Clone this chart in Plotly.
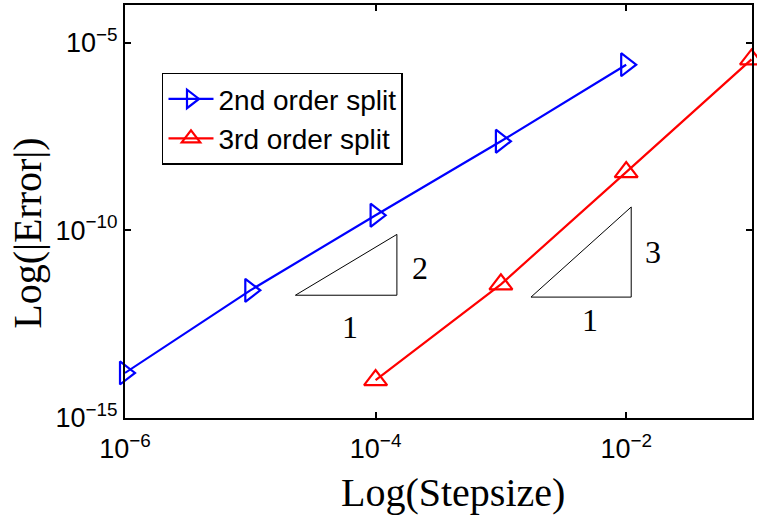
import plotly.graph_objects as go

# Data
stepsize_2nd = [1e-6, 1e-5, 1e-4, 1e-3, 1e-2]
log_err_2nd = [-13.80, -11.60, -9.60, -7.63, -5.59]
stepsize_3rd = [1e-4, 1e-3, 1e-2, 1e-1]
log_err_3rd = [-13.99, -11.44, -8.45, -5.45]

err_2nd = [10 ** v for v in log_err_2nd]
err_3rd = [10 ** v for v in log_err_3rd]

# slope triangles (log10 coordinates)
tri2_logx = [-4.64, -3.83, -3.83, -4.64]
tri2_logy = [-11.73, -11.73, -10.11, -11.73]
tri3_logx = [-2.76, -1.96, -1.96, -2.76]
tri3_logy = [-11.78, -11.78, -9.38, -11.78]

x_tickvals = [1e-6, 1e-4, 1e-2]
x_ticktext = ["10<sup>\u22126</sup>", "10<sup>\u22124</sup>", "10<sup>\u22122</sup>"]
y_tickvals = [1e-15, 1e-10, 1e-5]
y_ticktext = ["10<sup>\u221215</sup>", "10<sup>\u221210</sup>", "10<sup>\u22125</sup>"]

fig = go.Figure()

fig.add_trace(go.Scatter(
    x=stepsize_2nd, y=err_2nd, mode="lines+markers", name="2nd order split",
    line=dict(color="#0000ff", width=2.2),
    marker=dict(symbol="triangle-right-open", size=20, color="#0000ff",
                line=dict(width=2.2, color="#0000ff")),
    cliponaxis=False,
))
fig.add_trace(go.Scatter(
    x=stepsize_3rd, y=err_3rd, mode="lines+markers", name="3rd order split",
    line=dict(color="#ff0000", width=2.2),
    marker=dict(symbol="triangle-up-open", size=20, color="#ff0000",
                line=dict(width=2.2, color="#ff0000")),
    cliponaxis=False,
))

for tx, ty in [(tri2_logx, tri2_logy), (tri3_logx, tri3_logy)]:
    fig.add_trace(go.Scatter(
        x=[10 ** v for v in tx], y=[10 ** v for v in ty], mode="lines",
        line=dict(color="black", width=1), showlegend=False, hoverinfo="skip",
    ))

labels = [(-4.205, -12.58, "1"), (-3.644, -11.01, "2"),
          (-2.285, -12.39, "1"), (-1.787, -10.585, "3")]
for lx, ly, t in labels:
    fig.add_annotation(x=lx, y=ly, xref="x", yref="y", text=t, showarrow=False,
                       font=dict(family="Liberation Serif", size=32, color="black"))

# axis titles
fig.add_annotation(x=0.523, y=-0.181, xref="paper", yref="paper",
                   xanchor="center", yanchor="middle", showarrow=False,
                   text="Log(Stepsize)",
                   font=dict(family="Liberation Serif", size=40, color="black"))
fig.add_annotation(x=-0.155, y=0.448, xref="paper", yref="paper",
                   xanchor="center", yanchor="middle", showarrow=False,
                   text="Log(|Error|)", textangle=-90,
                   font=dict(family="Liberation Serif", size=40, color="black"))

fig.update_layout(
    width=757, height=517,
    margin=dict(l=125, r=5, t=3, b=99),
    paper_bgcolor="white", plot_bgcolor="white",
    font=dict(family="Liberation Sans", color="black"),
    showlegend=True,
    legend=dict(
        x=0.059, y=0.836, xanchor="left", yanchor="top",
        bordercolor="black", borderwidth=1.5, bgcolor="white",
        font=dict(family="Liberation Sans", size=28, color="black"),
        itemwidth=45, tracegroupgap=0,
    ),
)

fig.update_xaxes(
    type="log", range=[-6, -0.996],
    tickvals=x_tickvals, ticktext=x_ticktext,
    ticks="inside", ticklen=6, tickwidth=2, tickcolor="black",
    showline=True, linewidth=2, linecolor="black", mirror="ticks",
    showgrid=False, zeroline=False, ticklabelstandoff=6,
    tickfont=dict(family="Liberation Sans", size=27, color="black"),
)
fig.update_yaxes(
    type="log", range=[-15, -4],
    tickvals=y_tickvals, ticktext=y_ticktext,
    ticks="inside", ticklen=6, tickwidth=2, tickcolor="black",
    showline=True, linewidth=2, linecolor="black", mirror="ticks",
    showgrid=False, zeroline=False,
    tickfont=dict(family="Liberation Sans", size=27, color="black"),
)

fig.write_html("out.html")
